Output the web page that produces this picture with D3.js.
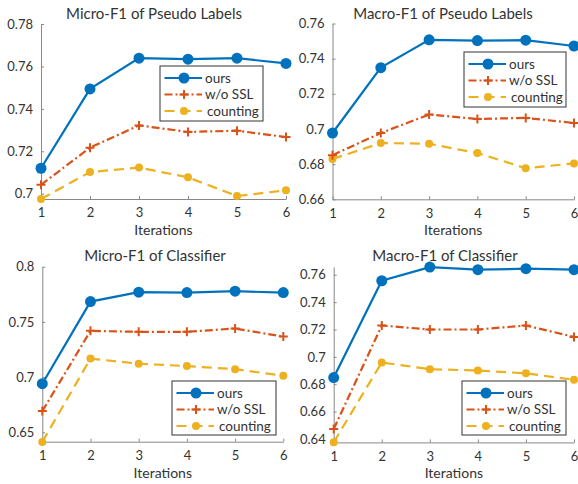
<!DOCTYPE html>
<html><head><meta charset="utf-8">
<script src="https://cdn.jsdelivr.net/npm/d3@7"></script>
<style>body{margin:0;background:#fff}svg{display:block}text{font-family:Lato,sans-serif;fill:#333}</style>
</head><body><svg id="c" width="578" height="484"></svg>
<script>
const iterations = [1, 2, 3, 4, 5, 6];
const seriesNames = ["ours", "w/o SSL", "counting"];

// Micro-F1 of Pseudo Labels
const microPseudoOurs = [0.712, 0.7494, 0.7639, 0.7634, 0.7639, 0.7614];
const microPseudoNoSSL = [0.7042, 0.7217, 0.7322, 0.7291, 0.7297, 0.7267];
const microPseudoCounting = [0.6975, 0.7102, 0.7123, 0.7077, 0.6989, 0.7016];
const microPseudoTicks = [0.70, 0.72, 0.74, 0.76, 0.78];
const microPseudoTickLabels = ["0.7", "0.72", "0.74", "0.76", "0.78"];

// Macro-F1 of Pseudo Labels
const macroPseudoOurs = [0.6977, 0.7349, 0.7507, 0.7503, 0.7505, 0.7472];
const macroPseudoNoSSL = [0.6851, 0.6977, 0.7082, 0.7057, 0.7063, 0.7034];
const macroPseudoCounting = [0.6829, 0.692, 0.6916, 0.6863, 0.6777, 0.6804];
const macroPseudoTicks = [0.66, 0.68, 0.70, 0.72, 0.74, 0.76];
const macroPseudoTickLabels = ["0.66", "0.68", "0.7", "0.72", "0.74", "0.76"];

// Micro-F1 of Classifier
const microClfOurs = [0.694, 0.7684, 0.7769, 0.7766, 0.7778, 0.7766];
const microClfNoSSL = [0.6692, 0.7419, 0.741, 0.741, 0.744, 0.7367];
const microClfCounting = [0.6413, 0.7168, 0.7121, 0.71, 0.7072, 0.7012];
const microClfTicks = [0.65, 0.70, 0.75, 0.80];
const microClfTickLabels = ["0.65", "0.7", "0.75", "0.8"];

// Macro-F1 of Classifier
const macroClfOurs = [0.6849, 0.7556, 0.7656, 0.7637, 0.7644, 0.7637];
const macroClfNoSSL = [0.6473, 0.7229, 0.72, 0.72, 0.7229, 0.7146];
const macroClfCounting = [0.6376, 0.6959, 0.691, 0.69, 0.688, 0.6832];
const macroClfTicks = [0.64, 0.66, 0.68, 0.70, 0.72, 0.74, 0.76];
const macroClfTickLabels = ["0.64", "0.66", "0.68", "0.7", "0.72", "0.74", "0.76"];

const colors = ["#0072BD", "#D95319", "#EDB120"];
const dashes = [null, "8,3,2,3", "10,6"];

const panels = [
  {title:"Micro-F1 of Pseudo Labels", data:[microPseudoOurs,microPseudoNoSSL,microPseudoCounting],
   ticks:microPseudoTicks, labels:microPseudoTickLabels, yDom:[0.6975,0.78],
   x0:41, x1:286, yTop:24, yBot:199, titleX:154, titleY:18.5, legend:{x:160,y:66,w:103,h:55}},
  {title:"Macro-F1 of Pseudo Labels", data:[macroPseudoOurs,macroPseudoNoSSL,macroPseudoCounting],
   ticks:macroPseudoTicks, labels:macroPseudoTickLabels, yDom:[0.66,0.76],
   x0:332.5, x1:574, yTop:23.5, yBot:199.3, titleX:443, titleY:18.5, legend:{x:464,y:52,w:102,h:55}},
  {title:"Micro-F1 of Classifier", data:[microClfOurs,microClfNoSSL,microClfCounting],
   ticks:microClfTicks, labels:microClfTickLabels, yDom:[0.6415,0.80],
   x0:42.3, x1:283.3, yTop:266.7, yBot:441.7, titleX:155, titleY:261, legend:{x:172,y:381,w:104,h:54}},
  {title:"Macro-F1 of Classifier", data:[macroClfOurs,macroClfNoSSL,macroClfCounting],
   ticks:macroClfTicks, labels:macroClfTickLabels, yDom:[0.6375,0.7658],
   x0:333.7, x1:574, yTop:266.8, yBot:442.4, titleX:445, titleY:261, legend:{x:462,y:381,w:104,h:54}}
];

const svg = d3.select("#c");

function drawMarker(g, i, x, y) {
  if (i === 0) {
    g.append("circle").attr("cx",x).attr("cy",y).attr("r",5.5).attr("fill",colors[0]);
  } else if (i === 1) {
    g.append("path").attr("d",`M${x-4.5},${y}H${x+4.5}M${x},${y-4.5}V${y+4.5}`)
      .attr("stroke",colors[1]).attr("stroke-width",2).attr("fill","none");
  } else {
    g.append("circle").attr("cx",x).attr("cy",y).attr("r",4).attr("fill",colors[2]);
  }
}

panels.forEach(p => {
  const g = svg.append("g");
  const x = d3.scaleLinear().domain([1,6]).range([p.x0,p.x1]);
  const y = d3.scaleLinear().domain(p.yDom).range([p.yBot,p.yTop]);

  const xa = g.append("g").attr("transform",`translate(0,${p.yBot})`)
    .call(d3.axisBottom(x).tickValues(iterations).tickFormat(d3.format("d")).tickSizeInner(-3).tickSizeOuter(0).tickPadding(9));
  const ya = g.append("g").attr("transform",`translate(${p.x0},0)`)
    .call(d3.axisLeft(y).tickValues(p.ticks).tickFormat((d,i)=>p.labels[i]).tickSizeInner(-3).tickSizeOuter(0).tickPadding(8));
  [xa,ya].forEach(a=>{
    a.select(".domain").attr("stroke","#888").attr("stroke-width",1);
    a.selectAll(".tick line").attr("stroke","#888");
    a.selectAll("text").attr("font-size",13).attr("fill","#333").attr("font-family","Lato,sans-serif");
  });

  g.append("text").attr("x",p.titleX).attr("y",p.titleY).attr("text-anchor","middle")
    .attr("font-size",15).text(p.title);
  g.append("text").attr("x",(p.x0+p.x1)/2).attr("y",p.yBot+36).attr("text-anchor","middle")
    .attr("font-size",14).text("Iterations");

  const line = d3.line().x((d,i)=>x(iterations[i])).y(d=>y(d));
  [2,1,0].forEach(i=>{
    g.append("path").datum(p.data[i]).attr("d",line).attr("fill","none")
      .attr("stroke",colors[i]).attr("stroke-width",2.2)
      .attr("stroke-dasharray",dashes[i]);
    const mg = g.append("g");
    p.data[i].forEach((v,k)=>drawMarker(mg,i,x(iterations[k]),y(v)));
  });

  const L = p.legend;
  const lg = g.append("g").attr("transform",`translate(${L.x},${L.y})`);
  lg.append("rect").attr("width",L.w).attr("height",L.h).attr("fill","#fff").attr("stroke","#333").attr("stroke-width",1);
  seriesNames.forEach((n,i)=>{
    const yy = 12 + i*16.5;
    lg.append("line").attr("x1",4.5).attr("x2",42).attr("y1",yy).attr("y2",yy)
      .attr("stroke",colors[i]).attr("stroke-width",2.2).attr("stroke-dasharray",dashes[i]);
    drawMarker(lg,i,24,yy);
    lg.append("text").attr("x",i===2?47:45).attr("y",yy+4.5).attr("font-size",13.5).text(n);
  });
});
</script></body></html>
